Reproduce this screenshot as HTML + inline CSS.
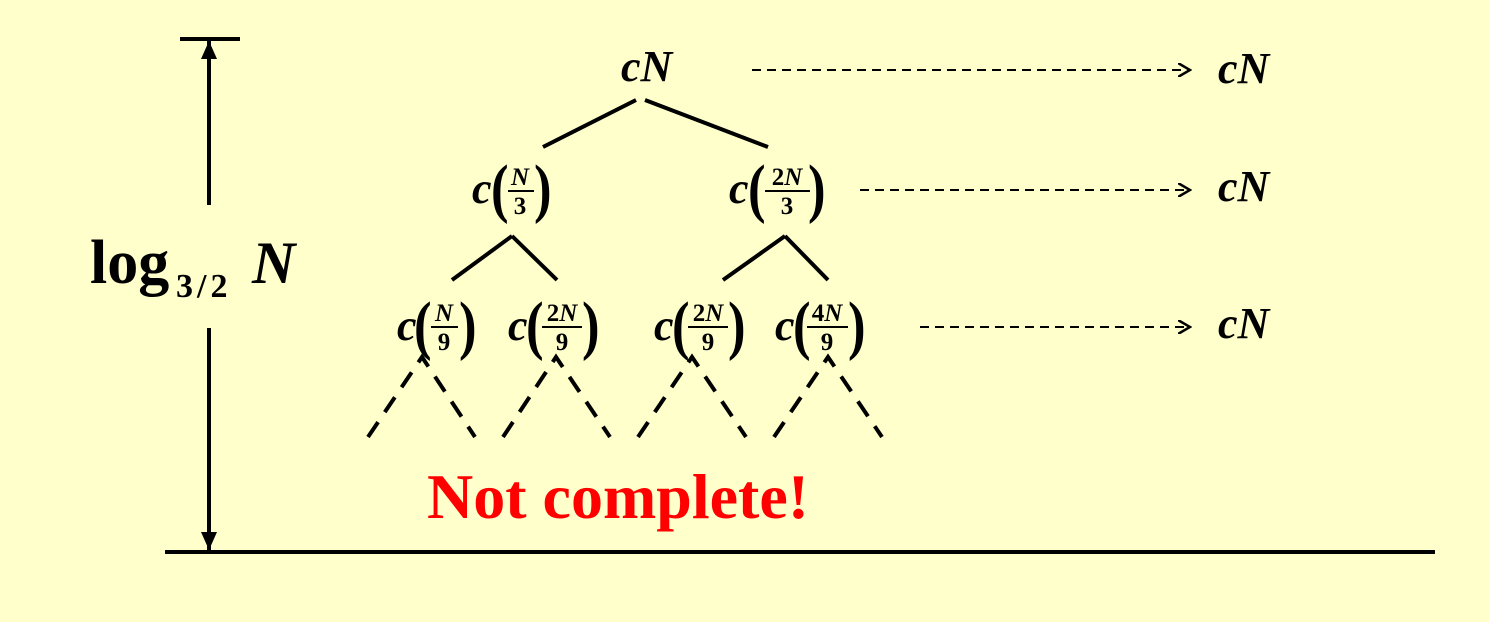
<!DOCTYPE html>
<html><head><meta charset="utf-8"><style>
html,body{margin:0;padding:0;background:#FFFFCC;}
svg{display:block}
text{font-family:"Liberation Serif",serif;font-weight:bold;fill:#000}
.i{font-style:italic}
</style></head><body>
<svg width="1489" height="622" viewBox="0 0 1489 622" xmlns="http://www.w3.org/2000/svg">
<rect width="1489" height="622" fill="#FFFFCC"/>
<defs>
<marker id="ah" markerWidth="14" markerHeight="14" refX="12" refY="7" orient="auto" markerUnits="userSpaceOnUse">
<path d="M0,0 L12,7 L0,14" fill="none" stroke="#000" stroke-width="2.5"/></marker>
<marker id="af" markerWidth="20" markerHeight="20" refX="18" refY="8" orient="auto" markerUnits="userSpaceOnUse">
<path d="M0,0 L18,8 L0,16 Z" fill="#000"/></marker>
</defs>
<g stroke="#000" stroke-width="4" fill="none">
<line x1="180" y1="39" x2="240" y2="39"/>
<line x1="209" y1="205" x2="209" y2="41" marker-end="url(#af)"/>
<line x1="209" y1="328" x2="209" y2="550" marker-end="url(#af)"/>
<line x1="165" y1="552" x2="1435" y2="552"/>
<line x1="636" y1="100" x2="543" y2="147"/>
<line x1="645" y1="100" x2="768" y2="147"/>
<line x1="512" y1="236" x2="452" y2="280"/>
<line x1="512" y1="236" x2="557" y2="280"/>
<line x1="785" y1="236" x2="723" y2="280"/>
<line x1="785" y1="236" x2="828" y2="280"/>
</g>
<g stroke="#000" stroke-width="4" fill="none" stroke-dasharray="18,12">
<path d="M368,437 L422,357 L475,437"/>
<path d="M503,437 L556,357 L610,437"/>
<path d="M638,437 L692,357 L746,437"/>
<path d="M774,437 L828,357 L882,437"/>
</g>
<g stroke="#000" stroke-width="2" fill="none" stroke-dasharray="9,6">
<line x1="752" y1="70" x2="1190" y2="70" marker-end="url(#ah)"/>
<line x1="860" y1="190" x2="1190" y2="190" marker-end="url(#ah)"/>
<line x1="920" y1="327" x2="1190" y2="327" marker-end="url(#ah)"/>
</g>
<text x="90" y="283" font-size="62">log</text>
<text x="176" y="297" font-size="34">3<tspan dx="4">/</tspan><tspan dx="4">2</tspan></text>
<text x="252" y="283" font-size="60" class="i">N</text>
<text x="621" y="81" font-size="44" class="i">cN</text>
<text x="1218" y="83" font-size="44" class="i">cN</text>
<text x="1218" y="201" font-size="44" class="i">cN</text>
<text x="1218" y="338" font-size="44" class="i">cN</text>
<g font-size="44">
<text x="472" y="203" class="i">c</text>
<text x="729" y="203" class="i">c</text>
<text x="397" y="340" class="i">c</text>
<text x="508" y="340" class="i">c</text>
<text x="654" y="340" class="i">c</text>
<text x="775" y="340" class="i">c</text>
</g>
<g font-size="66" style="font-weight:normal">
<text transform="translate(491,210) scale(0.8,1)">(</text><text transform="translate(534,210) scale(0.8,1)">)</text>
<text transform="translate(748,210) scale(0.8,1)">(</text><text transform="translate(808,210) scale(0.8,1)">)</text>
<text transform="translate(414,347) scale(0.8,1)">(</text><text transform="translate(459,347) scale(0.8,1)">)</text>
<text transform="translate(526,347) scale(0.8,1)">(</text><text transform="translate(582,347) scale(0.8,1)">)</text>
<text transform="translate(672,347) scale(0.8,1)">(</text><text transform="translate(728,347) scale(0.8,1)">)</text>
<text transform="translate(793,347) scale(0.8,1)">(</text><text transform="translate(848,347) scale(0.8,1)">)</text>
</g>
<g stroke="#000" stroke-width="2">
<line x1="508" y1="191" x2="534" y2="191"/>
<line x1="765" y1="191" x2="810" y2="191"/>
<line x1="431" y1="327" x2="458" y2="327"/>
<line x1="542" y1="327" x2="582" y2="327"/>
<line x1="688" y1="327" x2="728" y2="327"/>
<line x1="807" y1="327" x2="848" y2="327"/>
</g>
<g font-size="25" text-anchor="middle">
<text x="520" y="185" class="i">N</text><text x="520" y="214">3</text>
<text x="787" y="185">2<tspan class="i">N</tspan></text><text x="787" y="214">3</text>
<text x="444" y="321" class="i">N</text><text x="444" y="350">9</text>
<text x="562" y="321">2<tspan class="i">N</tspan></text><text x="562" y="350">9</text>
<text x="708" y="321">2<tspan class="i">N</tspan></text><text x="708" y="350">9</text>
<text x="827" y="321">4<tspan class="i">N</tspan></text><text x="827" y="350">9</text>
</g>
<text x="427" y="518" font-size="64" style="fill:#FF0000">Not complete!</text>
</svg>
</body></html>
